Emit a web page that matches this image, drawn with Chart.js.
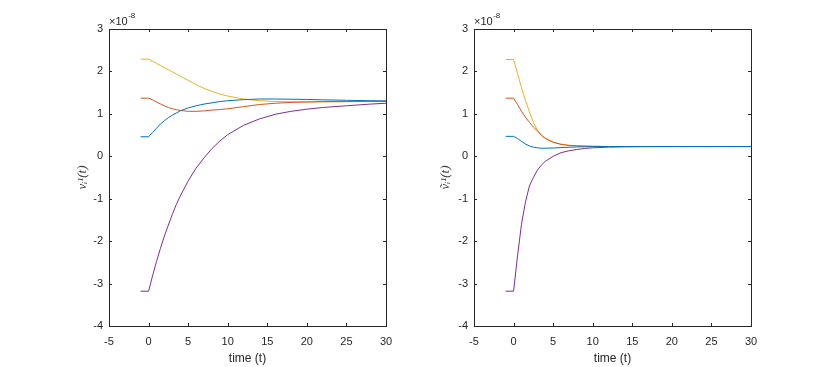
<!DOCTYPE html>
<html>
<head>
<meta charset="utf-8">
<script src="https://cdn.jsdelivr.net/npm/chart.js@4.4.1/dist/chart.umd.min.js"></script>
<style>
    body { margin: 0; background: #ffffff; }
    #wrap { position: relative; width: 830px; height: 367px; }
    canvas { position: absolute; top: 0; }
</style>
</head>
<body>
<div id="wrap">
    <canvas id="leftPlot" width="415" height="367" style="left:0px"></canvas>
    <canvas id="rightPlot" width="415" height="367" style="left:365px"></canvas>
</div>
<script>
// time grid shared by both panels (values are x 1e-8)
const times = [-1, 0, 0.5, 1, 1.5, 2, 2.5, 3, 3.5, 4, 5, 6, 7, 8, 9, 10, 12, 14, 16, 18, 20, 22, 25, 28, 30];

// left panel, v_i^1(t)
const v_blue   = [0.46, 0.46, 0.56, 0.66, 0.76, 0.84, 0.91, 0.97, 1.02, 1.07, 1.14, 1.19, 1.23, 1.26, 1.29, 1.31, 1.335, 1.35, 1.35, 1.345, 1.34, 1.33, 1.32, 1.31, 1.305];
const v_red    = [1.37, 1.37, 1.33, 1.28, 1.235, 1.19, 1.15, 1.12, 1.1, 1.08, 1.06, 1.06, 1.07, 1.09, 1.1, 1.12, 1.17, 1.22, 1.25, 1.27, 1.28, 1.29, 1.29, 1.295, 1.295];
const v_yellow = [2.29, 2.29, 2.24, 2.19, 2.14, 2.09, 2.04, 1.99, 1.94, 1.89, 1.79, 1.69, 1.6, 1.53, 1.47, 1.42, 1.35, 1.31, 1.29, 1.285, 1.28, 1.28, 1.285, 1.29, 1.29];
const v_purple = [-3.18, -3.18, -2.82, -2.48, -2.17, -1.88, -1.62, -1.37, -1.14, -0.94, -0.58, -0.28, -0.04, 0.18, 0.36, 0.51, 0.73, 0.88, 0.99, 1.06, 1.11, 1.15, 1.19, 1.23, 1.25];

// right panel, v~_i^1(t)
const w_blue   = [0.47, 0.47, 0.42, 0.35, 0.29, 0.245, 0.215, 0.2, 0.19, 0.19, 0.195, 0.205, 0.213, 0.22, 0.225, 0.228, 0.23, 0.23, 0.23, 0.23, 0.23, 0.23, 0.23, 0.23, 0.23];
const w_red    = [1.37, 1.37, 1.22, 1.06, 0.92, 0.8, 0.69, 0.6, 0.5, 0.42, 0.33, 0.28, 0.255, 0.245, 0.24, 0.235, 0.23, 0.23, 0.23, 0.23, 0.23, 0.23, 0.23, 0.23, 0.23];
const w_yellow = [2.28, 2.28, 1.95, 1.62, 1.32, 1.05, 0.8, 0.62, 0.5, 0.43, 0.335, 0.285, 0.26, 0.248, 0.24, 0.236, 0.232, 0.23, 0.23, 0.23, 0.23, 0.23, 0.23, 0.23, 0.23];
const w_purple = [-3.18, -3.18, -2.35, -1.6, -1.08, -0.7, -0.5, -0.33, -0.21, -0.12, 0.0, 0.085, 0.13, 0.16, 0.185, 0.2, 0.215, 0.222, 0.226, 0.228, 0.23, 0.23, 0.23, 0.23, 0.23];

const xTicks = [-5, 0, 5, 10, 15, 20, 25, 30];
const yTicks = [-4, -3, -2, -1, 0, 1, 2, 3];
const exponentText = '-8';
const xLabel = 'time (t)';

const colors = ['#0072BD', '#D95319', '#EDB120', '#7E2F8E'];
const axisColor = '#262626';
const tickFont = { family: '"Liberation Sans", Arial, sans-serif', size: 11 };

function points(vals) {
    return times.map((t, i) => ({ x: t, y: vals[i] }));
}

// MATLAB style box with inward ticks on all sides, plus the x10^-8 multiplier
const boxPlugin = {
    id: 'matlabBox',
    afterDraw(chart) {
        const ctx = chart.ctx;
        const a = chart.chartArea;
        const xs = chart.scales.x;
        const ys = chart.scales.y;
        ctx.save();
        ctx.strokeStyle = axisColor;
        ctx.lineWidth = 1;
        ctx.strokeRect(a.left + 0.5, a.top + 0.5, a.right - a.left, a.bottom - a.top);
        ctx.beginPath();
        xTicks.forEach(v => {
            let px = Math.round(xs.getPixelForValue(v)) + 0.5;
            ctx.moveTo(px, a.bottom); ctx.lineTo(px, a.bottom - 3);
            ctx.moveTo(px, a.top); ctx.lineTo(px, a.top + 3);
        });
        yTicks.forEach(v => {
            let py = Math.round(ys.getPixelForValue(v)) + 0.5;
            ctx.moveTo(a.left, py); ctx.lineTo(a.left + 3, py);
            ctx.moveTo(a.right, py); ctx.lineTo(a.right - 3, py);
        });
        ctx.stroke();

        ctx.fillStyle = axisColor;
        ctx.textAlign = 'left';
        ctx.textBaseline = 'alphabetic';
        ctx.font = '11px "Liberation Sans", Arial, sans-serif';
        ctx.fillText('\u00d710', a.left, a.top - 4);
        let w = ctx.measureText('\u00d710').width;
        ctx.font = '8px "Liberation Sans", Arial, sans-serif';
        ctx.fillText(exponentText, a.left + w + 0.5, a.top - 11);
        ctx.restore();
    }
};

function makeChart(id, series, yTitle, titlePad) {
    return new Chart(document.getElementById(id), {
        type: 'line',
        data: {
            datasets: series.map((vals, i) => ({
                data: points(vals),
                borderColor: colors[i],
                backgroundColor: colors[i],
                borderWidth: 1,
                pointRadius: 0,
                tension: 0,
                fill: false
            }))
        },
        options: {
            responsive: false,
            animation: false,
            events: [],
            layout: { padding: { left: 70, right: 29, top: 29, bottom: 0 } },
            plugins: { legend: { display: false }, tooltip: { enabled: false } },
            scales: {
                x: {
                    type: 'linear',
                    min: -5,
                    max: 30,
                    afterFit: s => { s.height = 41; },
                    afterBuildTicks: s => { s.ticks = xTicks.map(v => ({ value: v })); },
                    grid: { display: false, drawTicks: false },
                    border: { display: false },
                    ticks: { color: axisColor, font: tickFont, padding: 9, maxRotation: 0 },
                    title: {
                        display: true,
                        text: xLabel,
                        color: axisColor,
                        font: { family: '"Liberation Sans", Arial, sans-serif', size: 12 },
                        padding: { top: 0, bottom: 1 }
                    }
                },
                y: {
                    type: 'linear',
                    min: -4,
                    max: 3,
                    afterFit: s => { s.width = 39; },
                    afterBuildTicks: s => { s.ticks = yTicks.map(v => ({ value: v })); },
                    grid: { display: false, drawTicks: false },
                    border: { display: false },
                    ticks: { color: axisColor, font: tickFont, padding: 6 },
                    title: {
                        display: true,
                        text: yTitle,
                        color: '#404040',
                        font: { family: '"Liberation Serif", "DejaVu Serif", serif', size: 13, style: 'italic' },
                        padding: { top: titlePad, bottom: 0 }
                    }
                }
            }
        },
        plugins: [boxPlugin]
    });
}

makeChart('leftPlot', [v_blue, v_red, v_yellow, v_purple], 'v\u1d62\u00b9(t)', 5);
makeChart('rightPlot', [w_blue, w_red, w_yellow, w_purple], '\u1e7d\u1d62\u00b9(t)', 3);
</script>
</body>
</html>
